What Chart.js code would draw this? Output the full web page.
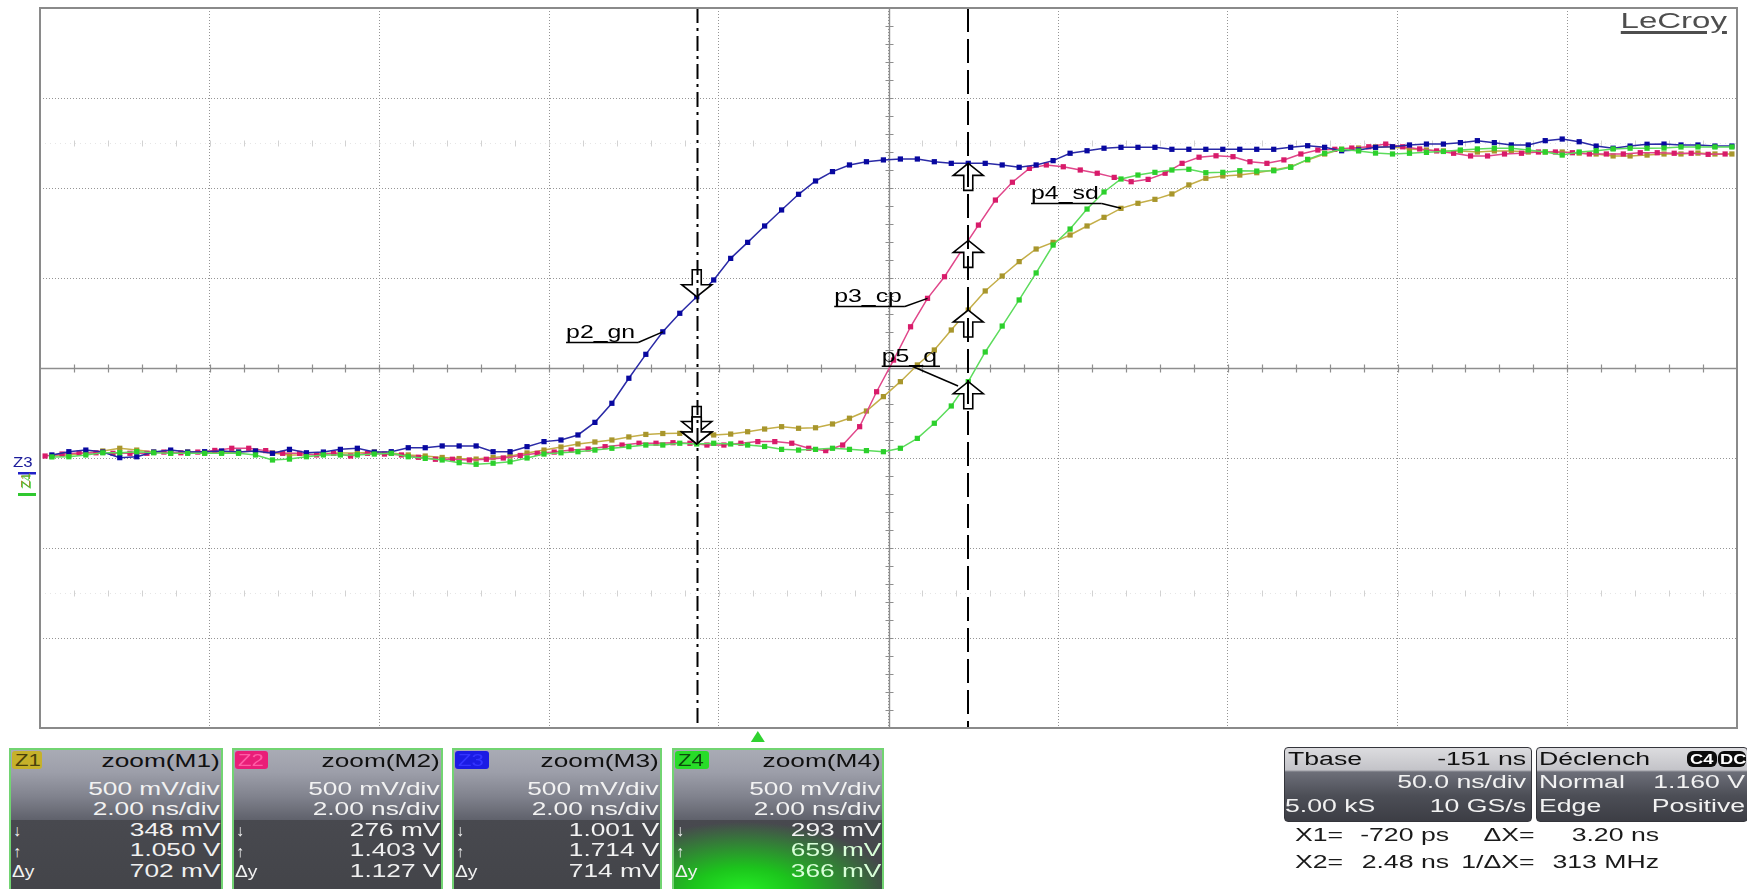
<!DOCTYPE html>
<html><head><meta charset="utf-8">
<script src="https://cdn.jsdelivr.net/npm/chart.js@4.4.1/dist/chart.umd.min.js"></script>
<style>
html,body{margin:0;padding:0;background:#fff;}
#stage{position:relative;width:1747px;height:889px;overflow:hidden;font-family:"Liberation Sans",Arial,Helvetica,sans-serif;}
#c{position:absolute;left:0;top:0;}
.p{position:absolute;box-sizing:border-box;overflow:hidden;}
.t{position:absolute;white-space:nowrap;}
</style></head><body>
<div id="stage"><canvas id="c" width="1747" height="889"></canvas></div>
<script>
// ---------- data ----------
const timesNs = [
-8.32,-8.12,-7.92,-7.72,-7.52,-7.32,-7.12,-6.92,-6.72,-6.52,
-6.32,-6.12,-5.92,-5.72,-5.52,-5.32,-5.12,-4.92,-4.72,-4.52,
-4.32,-4.12,-3.92,-3.72,-3.52,-3.32,-3.12,-2.92,-2.72,-2.52,
-2.32,-2.12,-1.92,-1.72,-1.52,-1.32,-1.12,-0.92,-0.72,-0.52,
-0.32,-0.12,0.08,0.28,0.48,0.68,0.88,1.08,1.28,1.48,
1.68,1.88,2.08,2.28,2.48,2.68,2.88,3.08,3.28,3.48,
3.68,3.88,4.08,4.28,4.48,4.68,4.88,5.08,5.28,5.48,
5.68,5.88,6.08,6.28,6.48,6.68,6.88,7.08,7.28,7.48,
7.68,7.88,8.08,8.28,8.48,8.68,8.88,9.08,9.28,9.48,
9.68,9.88,10.08,10.28,10.48,10.68,10.88,11.08,11.28,11.48];

// Z1 = p4_sd (olive), volts
const Z1 = [
0.011,0.017,0.028,0.039,0.054,0.044,0.033,0.028,0.033,0.028,
0.031,0.033,0.039,0.028,0.017,0.017,0.025,0.028,0.028,0.033,
0.028,0.017,0.011,0.003,-0.003,-0.006,0.003,0.011,0.028,0.044,
0.061,0.078,0.089,0.100,0.117,0.131,0.136,0.137,0.136,0.128,
0.133,0.146,0.161,0.174,0.165,0.168,0.189,0.221,0.261,0.341,
0.424,0.517,0.600,0.711,0.822,0.928,1.011,1.091,1.161,1.198,
1.239,1.289,1.337,1.387,1.415,1.437,1.467,1.517,1.554,1.567,
1.572,1.585,1.600,1.618,1.656,1.689,1.715,1.722,1.728,1.728,
1.717,1.711,1.706,1.706,1.700,1.706,1.706,1.700,1.700,1.700,
1.694,1.689,1.678,1.678,1.683,1.689,1.689,1.694,1.689,1.689];

// Z2 = p3_cp (magenta)
const Z2 = [
0.011,0.022,0.028,0.029,0.026,0.026,0.026,0.033,0.029,0.033,
0.042,0.054,0.054,0.041,0.026,0.026,0.017,0.026,0.011,0.026,
0.022,0.017,0.004,-0.007,-0.007,-0.011,-0.007,0.000,0.014,0.026,
0.033,0.044,0.050,0.063,0.072,0.082,0.082,0.085,0.082,0.072,
0.072,0.082,0.091,0.091,0.082,0.054,0.041,0.072,0.174,0.368,
0.544,0.729,0.887,1.007,1.152,1.294,1.433,1.532,1.609,1.628,
1.618,1.600,1.582,1.559,1.535,1.548,1.582,1.637,1.671,1.679,
1.674,1.646,1.637,1.656,1.689,1.711,1.715,1.722,1.729,1.744,
1.729,1.717,1.706,1.693,1.678,1.678,1.689,1.693,1.700,1.700,
1.696,1.689,1.689,1.689,1.696,1.696,1.693,1.693,1.687,1.689];

// Z3 = p2_gn (blue)
const Z3 = [
0.017,0.035,0.044,0.033,0.002,0.007,0.033,0.044,0.033,0.035,
0.039,0.033,0.039,0.026,0.048,0.029,0.033,0.048,0.054,0.033,
0.035,0.057,0.057,0.067,0.067,0.067,0.035,0.035,0.063,0.091,
0.100,0.128,0.198,0.304,0.443,0.576,0.701,0.804,0.896,0.989,
1.109,1.198,1.289,1.378,1.465,1.539,1.591,1.628,1.646,1.656,
1.661,1.661,1.646,1.637,1.637,1.637,1.628,1.615,1.628,1.652,
1.693,1.707,1.721,1.726,1.726,1.726,1.715,1.715,1.715,1.715,
1.715,1.715,1.715,1.726,1.735,1.726,1.707,1.711,1.726,1.729,
1.739,1.744,1.744,1.752,1.763,1.752,1.739,1.739,1.763,1.772,
1.757,1.733,1.721,1.733,1.743,1.744,1.739,1.739,1.733,1.733];

// Z4 = p5_q (green)
const Z4 = [
0.006,0.007,0.017,0.029,0.029,0.035,0.029,0.026,0.026,0.026,
0.026,0.026,0.017,-0.011,-0.006,0.007,0.017,0.017,0.017,0.022,
0.026,0.007,-0.002,-0.011,-0.026,-0.035,-0.029,-0.021,0.000,0.022,
0.029,0.035,0.044,0.054,0.063,0.072,0.072,0.082,0.078,0.082,
0.078,0.072,0.064,0.048,0.044,0.048,0.054,0.048,0.041,0.035,
0.054,0.109,0.193,0.289,0.424,0.589,0.733,0.878,1.028,1.183,
1.272,1.383,1.478,1.550,1.572,1.587,1.600,1.604,1.585,1.587,
1.596,1.594,1.596,1.615,1.659,1.693,1.715,1.706,1.694,1.689,
1.693,1.698,1.703,1.711,1.717,1.721,1.721,1.711,1.700,1.683,
1.700,1.707,1.717,1.721,1.721,1.722,1.728,1.728,1.728,1.728];

const Z2_SKEW_NS = -0.08;          // channel 2 sample skew
const X_MIN = -8.46, X_MAX = 11.54, X_DIV = 2;   // 2.00 ns/div
const Y_MIN = -1.5, Y_MAX = 2.5, Y_DIV = 0.5;    // 500 mV/div
const CURSOR_X1 = -0.72, CURSOR_X2 = 2.48;
const TRIGGER_T = 0;

const traceLabels = [
  {text:'p2_gn', t:-2.26, v:0.667, ch:'Z3', k:36},
  {text:'p3_cp', t:0.90,  v:0.867, ch:'Z2', k:52},
  {text:'p5_q',  t:1.46,  v:0.535, to:{t:2.36, v:0.40}, fromFrac:0.55},
  {text:'p4_sd', t:3.22,  v:1.439, ch:'Z1', k:63}
];

const zReadouts = [
  {id:'Z1', src:'zoom(M1)', vdiv:'500 mV/div', hdiv:'2.00 ns/div', lo:'348 mV', hi:'1.050 V', dy:'702 mV'},
  {id:'Z2', src:'zoom(M2)', vdiv:'500 mV/div', hdiv:'2.00 ns/div', lo:'276 mV', hi:'1.403 V', dy:'1.127 V'},
  {id:'Z3', src:'zoom(M3)', vdiv:'500 mV/div', hdiv:'2.00 ns/div', lo:'1.001 V', hi:'1.714 V', dy:'714 mV'},
  {id:'Z4', src:'zoom(M4)', vdiv:'500 mV/div', hdiv:'2.00 ns/div', lo:'293 mV', hi:'659 mV', dy:'366 mV'}
];

// ---------- styles ----------
const COL = {
  Z1:{line:'#c4ae48', pt:'#a8962c', badge:'#c6b12a', btxt:'#4a420c'},
  Z2:{line:'#e0468a', pt:'#d81b6a', badge:'#e91e78', btxt:'#ff5ca6'},
  Z3:{line:'#2a2aa6', pt:'#0808a0', badge:'#1b1be4', btxt:'#3434ff'},
  Z4:{line:'#5cdc5c', pt:'#2cd02c', badge:'#28dc28', btxt:'#0d4a0d'}
};
const SERIES = {Z1, Z2, Z3, Z4};
const timesFor = ch => ch === 'Z2' ? timesNs.map(t => +(t + Z2_SKEW_NS).toFixed(3)) : timesNs;
const X_CENTER = (X_MIN + X_MAX) / 2, Y_CENTER = (Y_MIN + Y_MAX) / 2;
const FONT = '"Liberation Sans", Arial, Helvetica, sans-serif';

function valueAt(ch, t) {
  const ts = timesFor(ch), vs = SERIES[ch];
  for (let i = 0; i < ts.length - 1; i++) {
    if (t >= ts[i] && t <= ts[i+1]) {
      const f = (t - ts[i]) / (ts[i+1] - ts[i]);
      return vs[i] + f * (vs[i+1] - vs[i]);
    }
  }
  return null;
}

function arrow(ctx, x, y, s) { // tip at (x,y); s=+1 body below (points up), s=-1 body above (points down)
  const hw = 15, hh = 12, sw = 4.5, sh = 15;
  ctx.beginPath();
  ctx.moveTo(x, y);
  ctx.lineTo(x + hw, y + s*hh);
  ctx.lineTo(x + sw, y + s*hh);
  ctx.lineTo(x + sw, y + s*(hh+sh));
  ctx.lineTo(x - sw, y + s*(hh+sh));
  ctx.lineTo(x - sw, y + s*hh);
  ctx.lineTo(x - hw, y + s*hh);
  ctx.closePath();
  ctx.fillStyle = '#fff'; ctx.fill();
  ctx.lineWidth = 1.6; ctx.strokeStyle = '#000'; ctx.stroke();
}

function sText(ctx, s, x, y, size, color, sx) {
  ctx.save();
  ctx.font = size + 'px ' + FONT;
  ctx.fillStyle = color; ctx.textBaseline = 'alphabetic';
  const w = ctx.measureText(s).width * sx;
  ctx.translate(x, y); ctx.scale(sx, 1); ctx.fillText(s, 0, 0);
  ctx.restore();
  return w;
}

const overlay = {
  id: 'scopeOverlay',
  beforeDatasetsDraw(chart) {
    const {ctx, chartArea: a, scales: {x, y}} = chart;
    ctx.save();
    // faint half-screen marker rows
    for (const v of [Y_CENTER + 2.5*Y_DIV, Y_CENTER - 2.5*Y_DIV]) {
      const py = Math.round(y.getPixelForValue(v)) + 0.5;
      ctx.strokeStyle = '#e6e6e6'; ctx.lineWidth = 1; ctx.setLineDash([1,4]);
      ctx.beginPath(); ctx.moveTo(a.left, py); ctx.lineTo(a.right, py); ctx.stroke();
      ctx.setLineDash([]); ctx.strokeStyle = '#d2d2d2';
      ctx.beginPath();
      for (let i = -25; i <= 25; i++) {
        const px = Math.round(x.getPixelForValue(X_CENTER + i*X_DIV/5)) + 0.5;
        if (px <= a.left + 2 || px >= a.right - 2) continue;
        ctx.moveTo(px, py - 3); ctx.lineTo(px, py + 3);
      }
      ctx.stroke();
    }
    // centre axes with minor ticks
    const cy = Math.round(y.getPixelForValue(Y_CENTER)) + 0.5;
    const cx = Math.round(x.getPixelForValue(X_CENTER)) + 0.5;
    ctx.strokeStyle = '#8e8e8e'; ctx.lineWidth = 1.4;
    ctx.beginPath(); ctx.moveTo(a.left, cy); ctx.lineTo(a.right, cy);
    ctx.moveTo(cx, a.top); ctx.lineTo(cx, a.bottom); ctx.stroke();
    ctx.lineWidth = 1.2; ctx.beginPath();
    for (let i = -25; i <= 25; i++) {
      const px = Math.round(x.getPixelForValue(X_CENTER + i*X_DIV/5)) + 0.5;
      if (px <= a.left + 2 || px >= a.right - 2) continue;
      ctx.moveTo(px, cy - 4); ctx.lineTo(px, cy + 4);
    }
    for (let i = -20; i <= 20; i++) {
      const py = Math.round(y.getPixelForValue(Y_CENTER + i*Y_DIV/5)) + 0.5;
      if (py <= a.top + 2 || py >= a.bottom - 2) continue;
      ctx.moveTo(cx - 4, py); ctx.lineTo(cx + 4, py);
    }
    ctx.stroke();
    ctx.restore();
  },
  afterDatasetsDraw(chart) {
    const {ctx, chartArea: a, scales: {x, y}} = chart;
    ctx.save();
    // cursor arrows
    const x1 = x.getPixelForValue(CURSOR_X1), x2 = x.getPixelForValue(CURSOR_X2);
    for (const ch of ['Z1','Z4','Z2','Z3']) {
      arrow(ctx, x1, y.getPixelForValue(valueAt(ch, CURSOR_X1)), -1);
    }
    for (const ch of ['Z4','Z1','Z2','Z3']) {
      arrow(ctx, x2, y.getPixelForValue(valueAt(ch, CURSOR_X2)), +1);
    }
    // cursor lines
    ctx.strokeStyle = '#000'; ctx.lineWidth = 2;
    ctx.setLineDash([15,5,3,5]);
    ctx.beginPath(); ctx.moveTo(Math.round(x1)+0.5, a.top); ctx.lineTo(Math.round(x1)+0.5, a.bottom); ctx.stroke();
    ctx.setLineDash([24,7]);
    ctx.beginPath(); ctx.moveTo(Math.round(x2), a.top); ctx.lineTo(Math.round(x2), a.bottom); ctx.stroke();
    ctx.setLineDash([]);
    // labels
    for (const L of traceLabels) {
      const lx = x.getPixelForValue(L.t), ly = y.getPixelForValue(L.v);
      const w = sText(ctx, L.text, lx, ly, 17.5, '#000', 1.42);
      ctx.strokeStyle = '#000'; ctx.lineWidth = 1.5;
      ctx.beginPath(); ctx.moveTo(lx, ly + 4.5); ctx.lineTo(lx + w + 3, ly + 4.5); ctx.stroke();
      let tx, ty, sx0;
      if (L.to) { tx = x.getPixelForValue(L.to.t); ty = y.getPixelForValue(L.to.v); sx0 = lx + w * L.fromFrac; }
      else { tx = x.getPixelForValue(timesFor(L.ch)[L.k]); ty = y.getPixelForValue(SERIES[L.ch][L.k]); sx0 = lx + w + 3; }
      ctx.beginPath(); ctx.moveTo(sx0, ly + 4.5); ctx.lineTo(tx, ty); ctx.stroke();
    }
    // frame
    ctx.strokeStyle = '#8a8a8a'; ctx.lineWidth = 2;
    ctx.strokeRect(a.left, a.top, a.right - a.left, a.bottom - a.top);
    // trigger marker
    const tp = x.getPixelForValue(TRIGGER_T);
    ctx.fillStyle = '#2fd22f';
    ctx.beginPath(); ctx.moveTo(tp, a.bottom + 3); ctx.lineTo(tp + 7, a.bottom + 14); ctx.lineTo(tp - 7, a.bottom + 14); ctx.closePath(); ctx.fill();
    // ground markers at the left
    const gy = y.getPixelForValue(0);
    sText(ctx, 'Z3', 13, gy + 9, 14, '#1a1a9a', 1.2);
    ctx.fillStyle = '#2020c8'; ctx.fillRect(18, gy + 14, 18, 2.5);
    ctx.save(); ctx.translate(30, gy + 30); ctx.rotate(-Math.PI/2);
    sText(ctx, 'Z1', 0, 0, 13, '#a09030', 1);
    ctx.restore();
    ctx.save(); ctx.translate(31, gy + 31); ctx.rotate(-Math.PI/2);
    sText(ctx, 'Z4', 0, 0, 13, 'rgba(40,200,40,0.7)', 1);
    ctx.restore();
    ctx.fillStyle = '#30c830'; ctx.fillRect(18, gy + 35, 18, 3);
    ctx.restore();
  }
};

const ds = (ch, order) => ({
  label: ch,
  data: timesFor(ch).map((t, i) => ({x: t, y: SERIES[ch][i]})),
  borderColor: COL[ch].line, backgroundColor: COL[ch].pt,
  pointBackgroundColor: COL[ch].pt, pointBorderColor: COL[ch].pt,
  pointStyle: 'rect', pointRadius: 3.7, pointBorderWidth: 0,
  borderWidth: 1.5, tension: 0, order
});

new Chart(document.getElementById('c'), {
  type: 'line',
  data: {datasets: [ds('Z4', 0), ds('Z3', 1), ds('Z2', 2), ds('Z1', 3)]},
  options: {
    responsive: false, animation: false, events: [],
    layout: {padding: {left: 40, top: 8, right: 10, bottom: 161}},
    plugins: {legend: {display: false}, tooltip: {enabled: false}},
    scales: {
      x: {
        type: 'linear', min: X_MIN, max: X_MAX,
        afterBuildTicks: s => { s.ticks = Array.from({length: 11}, (_, i) => ({value: X_MIN + i*X_DIV})); },
        ticks: {display: false},
        grid: {color: '#959595', lineWidth: 1, drawTicks: false},
        border: {display: false, dash: [1, 2]},
        afterFit: s => { s.height = 0; }
      },
      y: {
        min: Y_MIN, max: Y_MAX,
        ticks: {display: false, stepSize: Y_DIV},
        grid: {color: '#959595', lineWidth: 1, drawTicks: false},
        border: {display: false, dash: [1, 2]},
        afterFit: s => { s.width = 0; }
      }
    }
  },
  plugins: [overlay]
});

// ---------- readout panels (HTML) ----------
const stage = document.getElementById('stage');
function el(parent, css) { const d = document.createElement('div'); d.className = 'p'; Object.assign(d.style, css); parent.appendChild(d); return d; }
function txt(parent, s, o) {
  const d = document.createElement('div');
  d.className = 't'; d.textContent = s;
  const fs = o.size || 17.5;
  d.style.fontSize = fs + 'px'; d.style.lineHeight = fs + 'px';
  d.style.top = (o.cy - fs/2) + 'px';
  d.style.color = o.color || '#f2f2f2';
  if (o.weight) d.style.fontWeight = o.weight;
  const sx = o.sx || 1.5;
  if (o.right !== undefined) { d.style.right = o.right + 'px'; d.style.transformOrigin = 'right center'; }
  else { d.style.left = o.left + 'px'; d.style.transformOrigin = 'left center'; }
  d.style.transform = 'scaleX(' + sx + ')';
  if (o.css) Object.assign(d.style, o.css);
  parent.appendChild(d); return d;
}

const zBoxes = [{left: 9, width: 214, bw: 30}, {left: 232, width: 211, bw: 33}, {left: 452, width: 210, bw: 34}, {left: 672, width: 212, bw: 34}];
zReadouts.forEach((r, i) => {
  const b = zBoxes[i];
  const p = el(stage, {left: b.left + 'px', top: '748px', width: b.width + 'px', height: '146px',
    border: '2px solid #72d472',
    background: 'linear-gradient(#a9abb5 0px, #9d9faa 22px, #81838e 46px, #5f616b 70px, #48494f 70px, #434449 100%)'});
  if (r.id === 'Z4') {
    el(p, {left: '0px', top: '70px', width: '100%', height: '80px',
      background: 'radial-gradient(ellipse 150px 70px at 70px 72px, #24f024 0%, #1cc41c 35%, rgba(72,73,79,0) 100%)'});
  }
  const badge = el(p, {left: '1px', top: '1px', width: b.bw + 'px', height: '18px', background: COL[r.id].badge, borderRadius: '3px'});
  txt(badge, r.id, {left: 3, cy: 9.5, color: COL[r.id].btxt, size: 17, sx: 1.3});
  txt(p, r.src, {right: 1, cy: 11.5, color: '#101010'});
  txt(p, r.vdiv, {right: 1, cy: 39.5});
  txt(p, r.hdiv, {right: 1, cy: 59.5});
  const lowCol = r.id === 'Z4' ? '#d8ffd8' : '#f0f0f0';
  txt(p, '\u2193', {left: 2, cy: 81, sx: 1, size: 16});
  txt(p, r.lo, {right: 1, cy: 80.5});
  txt(p, '\u2191', {left: 2, cy: 101.5, sx: 1, size: 16});
  txt(p, r.hi, {right: 1, cy: 101, color: lowCol});
  txt(p, '\u0394y', {left: 1, cy: 121.5, sx: 1.2, size: 16});
  txt(p, r.dy, {right: 1, cy: 121.5, color: lowCol});
});

const panelBg = 'linear-gradient(#dcdcdf 0px, #c3c3c8 22px, #6d6f79 24px, #4c4e56 48px, #3b3c43 75px)';
const tb = el(stage, {left: '1284px', top: '747px', width: '248px', height: '75px', borderRadius: '4px', border: '1px solid #34353b', background: panelBg});
txt(tb, 'Tbase', {left: 3, cy: 11, color: '#111', size: 18, sx: 1.48});
txt(tb, '-151 ns', {right: 5, cy: 11, color: '#111', size: 18, sx: 1.48});
txt(tb, '50.0 ns/div', {right: 5, cy: 34, size: 18, sx: 1.48});
txt(tb, '5.00 kS', {left: 0, cy: 57.5, size: 18, sx: 1.48});
txt(tb, '10 GS/s', {right: 5, cy: 57.5, size: 18, sx: 1.48});

const tr = el(stage, {left: '1536px', top: '747px', width: '212px', height: '75px', borderRadius: '4px', border: '1px solid #34353b', background: panelBg});
txt(tr, 'D\u00e9clench', {left: 2, cy: 11, color: '#111', size: 18, sx: 1.48});
const c4 = el(tr, {left: '150px', top: '3px', width: '30px', height: '16px', background: '#0c0c0c', borderRadius: '6px'});
txt(c4, 'C4', {left: 3, cy: 8, size: 14, sx: 1.3, color: '#fff', weight: 'bold'});
const dc = el(tr, {left: '181px', top: '3px', width: '28px', height: '16px', background: '#0c0c0c', borderRadius: '6px'});
txt(dc, 'DC', {left: 2, cy: 8, size: 14, sx: 1.3, color: '#fff', weight: 'bold'});
txt(tr, 'Normal', {left: 2, cy: 34, size: 18, sx: 1.48});
txt(tr, '1.160 V', {right: 2, cy: 34, size: 18, sx: 1.48});
txt(tr, 'Edge', {left: 2, cy: 57.5, size: 18, sx: 1.48});
txt(tr, 'Positive', {right: 2, cy: 57.5, size: 18, sx: 1.48});

const cur = {size: 18, sx: 1.48, color: '#1a1a1a'};
txt(stage, 'X1=', Object.assign({left: 1295, cy: 835}, cur));
txt(stage, '-720 ps', Object.assign({right: 298, cy: 835}, cur));
txt(stage, '\u0394X=', Object.assign({right: 212, cy: 835}, cur));
txt(stage, '3.20 ns', Object.assign({right: 88, cy: 835}, cur));
txt(stage, 'X2=', Object.assign({left: 1295, cy: 861.5}, cur));
txt(stage, '2.48 ns', Object.assign({right: 298, cy: 861.5}, cur));
txt(stage, '1/\u0394X=', Object.assign({right: 212, cy: 861.5}, cur));
txt(stage, '313 MHz', Object.assign({right: 88, cy: 861.5}, cur));

txt(stage, 'LeCroy', {right: 20, cy: 20.5, size: 22, sx: 1.5, color: '#4e4e4e',
  css: {textDecoration: 'underline', textDecorationThickness: '2.5px', textUnderlineOffset: '3px'}});
</script>
</body></html>
